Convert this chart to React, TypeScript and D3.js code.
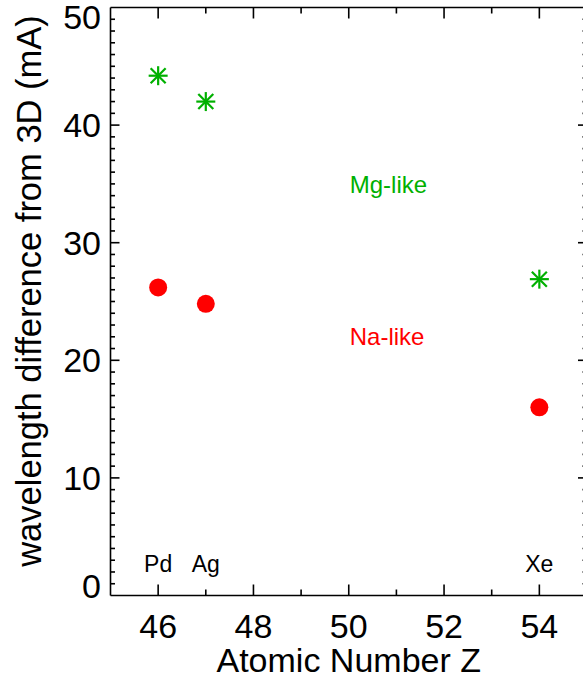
import React from "react";
import * as d3 from "d3";

const atomicNumbers = [46, 47, 54];
const elements = ["Pd", "Ag", "Xe"];
const mgLike = [44.2, 42.0, 26.9];
const naLike = [26.2, 24.8, 16.0];
const xTicks = [46, 48, 50, 52, 54];
const yTicks = [0, 10, 20, 30, 40, 50];

const W = 583;
const H = 684;
const FONT = "'Liberation Sans', Arial, Helvetica, sans-serif";
const GREEN = "#00b000";
const RED = "#ff0000";

export default function App() {
  const x = d3.scaleLinear().domain([45, 55]).range([110.5, 587]);
  const y = d3.scaleLinear().domain([0, 50]).range([595.5, 7.5]);
  const [x0, x1] = x.range();
  const [yb, yt] = y.range();
  const xMinor = d3.range(46, 55, 1);
  const yMinor = d3.range(1, 50, 1);

  const star = (cx: number, cy: number, key: string) => {
    const a = 9.5;
    const d = 7.5;
    return (
      <g key={key} stroke={GREEN} strokeWidth={2.2}>
        <line x1={cx - a} y1={cy} x2={cx + a} y2={cy} />
        <line x1={cx} y1={cy - a} x2={cx} y2={cy + a} />
        <line x1={cx - d} y1={cy - d} x2={cx + d} y2={cy + d} />
        <line x1={cx - d} y1={cy + d} x2={cx + d} y2={cy - d} />
      </g>
    );
  };

  return (
    <svg
      width={W}
      height={H}
      style={{ position: "absolute", left: 0, top: 0, background: "#fff" }}
      fontFamily={FONT}
    >
      <rect x={0} y={0} width={W} height={H} fill="#fff" />
      <g stroke="#000" strokeWidth={1.6} fill="none">
        <line x1={x0} y1={yb} x2={x1} y2={yb} />
        <line x1={x0} y1={yt} x2={x1} y2={yt} />
        <line x1={x0} y1={yb} x2={x0} y2={yt} />
        <line x1={x1} y1={yb} x2={x1} y2={yt} />
        {xMinor.map((v) => {
          const major = v % 2 === 0;
          const len = major ? 11 : 6;
          return (
            <g key={"xt" + v}>
              <line x1={x(v)} y1={yb} x2={x(v)} y2={yb - len} />
              <line x1={x(v)} y1={yt} x2={x(v)} y2={yt + len} />
            </g>
          );
        })}
        {yMinor.map((v) => {
          const major = v % 10 === 0;
          const len = major ? 9 : 4.5;
          return (
            <g key={"yt" + v}>
              <line x1={x0} y1={y(v)} x2={x0 + len} y2={y(v)} />
              <line x1={x1} y1={y(v)} x2={x1 - len} y2={y(v)} />
            </g>
          );
        })}
      </g>
      {xTicks.map((v) => (
        <text key={"xl" + v} x={x(v)} y={638} fontSize={34} textAnchor="middle" fill="#000">
          {v}
        </text>
      ))}
      {yTicks.map((v) => {
        const cy = Math.min(Math.max(y(v), yt + 9), yb - 10);
        return (
          <text key={"yl" + v} x={101} y={cy + 12} fontSize={34} textAnchor="end" fill="#000">
            {v}
          </text>
        );
      })}
      <text x={x(50)} y={672} fontSize={34} textAnchor="middle" fill="#000">
        Atomic Number Z
      </text>
      <text
        transform={`translate(41,291) rotate(-90)`}
        fontSize={34.5}
        textAnchor="middle"
        fill="#000"
      >
        wavelength difference from 3D (mA)
      </text>
      {atomicNumbers.map((z, i) => (
        <text key={"el" + i} x={x(z)} y={y(2)} fontSize={23} textAnchor="middle" fill="#000">
          {elements[i]}
        </text>
      ))}
      {atomicNumbers.map((z, i) => (
        <circle key={"na" + i} cx={x(z)} cy={y(naLike[i])} r={9} fill={RED} />
      ))}
      {atomicNumbers.map((z, i) => star(x(z), y(mgLike[i]), "mg" + i))}
      <text x={x(50) + 1} y={y(34.2)} fontSize={24} fill={GREEN}>
        Mg-like
      </text>
      <text x={x(50) + 1} y={y(21.3)} fontSize={24} fill={RED}>
        Na-like
      </text>
    </svg>
  );
}
